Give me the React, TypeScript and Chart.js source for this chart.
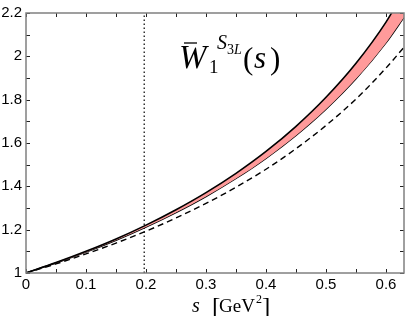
import React, { useEffect, useRef } from 'react';
import { Chart, registerables } from 'chart.js';

Chart.register(...registerables);

// ---- data ----
const sValues = [0, 0.05, 0.1, 0.15, 0.2, 0.25, 0.3, 0.35, 0.4, 0.45, 0.5, 0.55, 0.6, 0.63];
const bandUpper = [1, 1.048, 1.1, 1.157, 1.221, 1.292, 1.371, 1.46, 1.561, 1.677, 1.811, 1.968, 2.158, 2.3];
const bandLower = [1, 1.046, 1.096, 1.151, 1.212, 1.279, 1.353, 1.436, 1.529, 1.635, 1.756, 1.896, 2.062, 2.18];
const dashedCurve = [1, 1.042, 1.088, 1.138, 1.193, 1.254, 1.321, 1.396, 1.479, 1.574, 1.681, 1.803, 1.946, 2.042];
const dottedLineS = 0.197;

const xMin = 0;
const xMax = 0.63;
const yMin = 1;
const yMax = 2.2;
const xTickValues = [0, 0.1, 0.2, 0.3, 0.4, 0.5, 0.6];
const xTickLabels = ['0', '0.1', '0.2', '0.3', '0.4', '0.5', '0.6'];
const xMinorTicks = [0.05, 0.15, 0.25, 0.35, 0.45, 0.55];
const yTickValues = [1, 1.2, 1.4, 1.6, 1.8, 2, 2.2];
const yTickLabels = ['1', '1.2', '1.4', '1.6', '1.8', '2', '2.2'];
const yMinorTicks = [1.1, 1.3, 1.5, 1.7, 1.9, 2.1];

const toPoints = (ys: number[]) => sValues.map((s, i) => ({ x: s, y: ys[i] }));

const framePlugin = {
  id: 'frameTicks',
  afterDatasetsDraw(chart: any) {
    const { ctx, chartArea: a, scales } = chart;
    const xs = scales.x;
    const ys = scales.y;
    ctx.save();
    // inward ticks on all four sides
    ctx.strokeStyle = '#222';
    ctx.lineWidth = 1;
    const len = 4;
    ctx.beginPath();
    [...xTickValues, ...xMinorTicks].forEach((v) => {
      const px = Math.round(xs.getPixelForValue(v)) + 0.5;
      ctx.moveTo(px, a.bottom);
      ctx.lineTo(px, a.bottom - len);
      ctx.moveTo(px, a.top);
      ctx.lineTo(px, a.top + len);
    });
    [...yTickValues, ...yMinorTicks].forEach((v) => {
      const py = Math.round(ys.getPixelForValue(v)) + 0.5;
      ctx.moveTo(a.left, py);
      ctx.lineTo(a.left + len, py);
      ctx.moveTo(a.right, py);
      ctx.lineTo(a.right - len, py);
    });
    ctx.stroke();
    // frame
    ctx.strokeStyle = '#808080';
    ctx.lineWidth = 1.5;
    ctx.strokeRect(a.left, a.top, a.right - a.left, a.bottom - a.top);

    // in-plot label  W̄_1^{S_3L}(s)
    const serif = '"Liberation Serif", "DejaVu Serif", serif';
    const bx = a.left + 153;
    const by = a.top + 55;
    ctx.fillStyle = '#000';
    ctx.textBaseline = 'alphabetic';
    ctx.textAlign = 'left';
    ctx.font = `italic 33px ${serif}`;
    ctx.fillText('W', bx, by);
    // bar
    ctx.lineWidth = 1.3;
    ctx.strokeStyle = '#000';
    ctx.beginPath();
    ctx.moveTo(bx + 5, by - 25);
    ctx.lineTo(bx + 18, by - 25);
    ctx.stroke();
    ctx.font = `19px ${serif}`;
    ctx.fillText('1', bx + 30, by + 5);
    ctx.font = `italic 20px ${serif}`;
    ctx.fillText('S', bx + 38, by - 19);
    ctx.font = `14px ${serif}`;
    ctx.fillText('3', bx + 48, by - 14);
    ctx.font = `italic 14px ${serif}`;
    ctx.fillText('L', bx + 55, by - 14);
    ctx.font = `31px ${serif}`;
    ctx.fillText('(', bx + 64, by + 1);
    ctx.font = `italic 31px ${serif}`;
    ctx.fillText('s', bx + 75, by);
    ctx.font = `31px ${serif}`;
    ctx.fillText(')', bx + 91, by + 1);

    // x-axis title  s [GeV^2]
    const tx = a.left + 166;
    const ty = chart.height - 4;
    ctx.font = `italic 20px ${serif}`;
    ctx.fillText('s', tx, ty);
    ctx.font = `25px ${serif}`;
    ctx.fillText('[', tx + 20, ty + 3);
    ctx.font = `19px ${serif}`;
    ctx.fillText('GeV', tx + 27, ty);
    ctx.font = `12px ${serif}`;
    ctx.fillText('2', tx + 64, ty - 9);
    ctx.font = `25px ${serif}`;
    ctx.fillText(']', tx + 70, ty + 3);
    ctx.restore();
  },
};

export default function App() {
  const ref = useRef<HTMLCanvasElement | null>(null);

  useEffect(() => {
    if (!ref.current) return;
    const sans = '"Liberation Sans", Arial, Helvetica, sans-serif';
    const chart = new Chart(ref.current, {
      type: 'line',
      data: {
        datasets: [
          {
            data: toPoints(bandUpper),
            borderColor: '#000',
            borderWidth: 1.6,
            backgroundColor: '#ff9a9a',
            fill: '+1',
            pointRadius: 0,
            cubicInterpolationMode: 'monotone',
          },
          {
            data: toPoints(bandLower),
            borderColor: '#000',
            borderWidth: 1.4,
            fill: false,
            pointRadius: 0,
            cubicInterpolationMode: 'monotone',
          },
          {
            data: toPoints(dashedCurve),
            borderColor: '#000',
            borderWidth: 1.4,
            borderDash: [6, 4],
            fill: false,
            pointRadius: 0,
            cubicInterpolationMode: 'monotone',
          },
          {
            data: [
              { x: dottedLineS, y: yMin },
              { x: dottedLineS, y: yMax },
            ],
            borderColor: '#000',
            borderWidth: 1.2,
            borderDash: [1.5, 2.5],
            fill: false,
            pointRadius: 0,
          },
        ],
      } as any,
      options: {
        animation: false,
        responsive: false,
        maintainAspectRatio: false,
        layout: { padding: { top: 7, right: 3, left: 0, bottom: 0 } },
        plugins: { legend: { display: false }, tooltip: { enabled: false } },
        scales: {
          x: {
            type: 'linear',
            min: xMin,
            max: xMax,
            grid: { display: false, drawTicks: false },
            border: { display: false },
            afterBuildTicks: (scale: any) => {
              scale.ticks = xTickValues.map((v) => ({ value: v }));
            },
            afterFit: (scale: any) => {
              scale.height = 43;
            },
            ticks: {
              autoSkip: false,
              maxRotation: 0,
              padding: 3,
              color: '#000',
              font: { family: sans, size: 15 },
              callback: (v: any) => {
                const i = xTickValues.findIndex((t) => Math.abs(t - v) < 1e-9);
                return i >= 0 ? xTickLabels[i] : '';
              },
            },
          },
          y: {
            type: 'linear',
            min: yMin,
            max: yMax,
            grid: { display: false, drawTicks: false },
            border: { display: false },
            afterBuildTicks: (scale: any) => {
              scale.ticks = yTickValues.map((v) => ({ value: v }));
            },
            afterFit: (scale: any) => {
              scale.width = 26;
            },
            ticks: {
              autoSkip: false,
              padding: 4,
              color: '#000',
              font: { family: sans, size: 15 },
              callback: (v: any) => {
                const i = yTickValues.findIndex((t) => Math.abs(t - v) < 1e-9);
                return i >= 0 ? yTickLabels[i] : '';
              },
            },
          },
        },
      } as any,
      plugins: [framePlugin],
    });
    return () => chart.destroy();
  }, []);

  return (
    <div style={{ position: 'fixed', left: 0, top: 0, width: 407, height: 316, background: '#fff' }}>
      <canvas ref={ref} width={407} height={316} style={{ width: 407, height: 316, display: 'block' }} />
    </div>
  );
}
